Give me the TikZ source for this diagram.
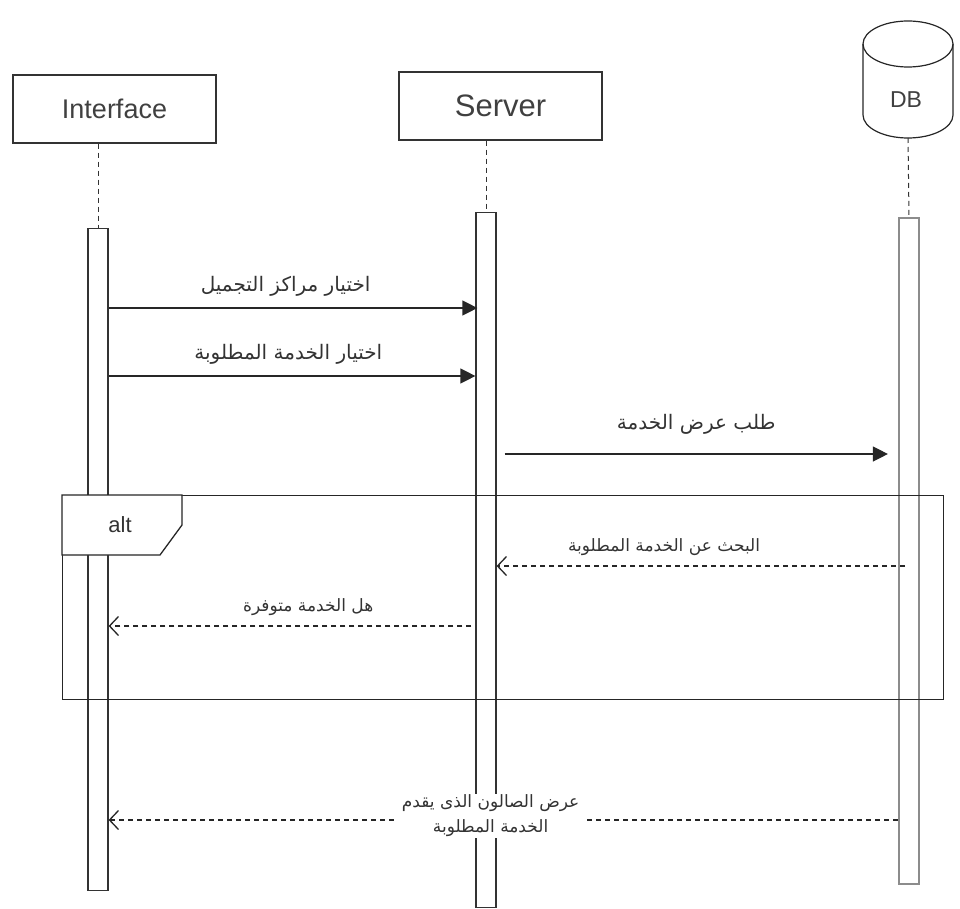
\documentclass[tikz,border=0pt]{standalone}
\usepackage{fontspec}
\setmainfont{Liberation Sans}
\newfontfamily\arabicfont[Script=Arabic]{DejaVu Sans}
\TeXXeTstate=1
\usetikzlibrary{arrows.meta}

% right-to-left label text
\newcommand{\rtl}[1]{{\arabicfont\beginR #1\endR}}

\tikzset{
  head/.style={draw=black!80, line width=1.2pt, minimum width=203pt, minimum height=68pt, text=black!75},
  actbar/.style={draw=black!80, line width=1.2pt, fill=white, minimum width=20pt, anchor=north, inner sep=0pt},
  life/.style={draw=black!80, line width=1pt, dash pattern=on 5pt off 4pt},
  call/.style={draw=black!85, line width=1.3pt, -{Triangle[length=15pt,width=15pt]}},
  reply/.style={draw=black!85, line width=1.1pt, dash pattern=on 5pt off 4pt, -{Straight Barb[length=9pt,width=19pt,line width=1.3pt]}},
  msg/.style={text=black!80, font=\fontsize{20}{22}\selectfont, inner sep=1pt}
}

\begin{document}
\begin{tikzpicture}
  [x=1pt,y=-1pt]
  \useasboundingbox (0,0) rectangle (960,909);

  % lifeline heads
  \node[head, font=\fontsize{27}{30}\selectfont] (iface) at (114.5,109) {Interface};
  \node[head, font=\fontsize{31}{34}\selectfont] (server) at (500.5,106) {Server};
  \draw[draw=black!85, line width=1.2pt] (863,44) -- (863,115) arc[start angle=180, end angle=0, x radius=45, y radius=23]
    -- (953,44) arc[start angle=0, end angle=-180, x radius=45, y radius=23] -- cycle;
  \draw[draw=black!85, line width=1.2pt] (863,44) arc[start angle=180, end angle=0, x radius=45, y radius=23];
  \node[text=black!75, font=\fontsize{23}{26}\selectfont] (db) at (906,100) {DB};
  \coordinate (dbbot) at (908,138);

  % activation bars
  \node[actbar, minimum height=662pt] (ibar) at (98,228) {};
  \node[actbar, minimum height=695pt] (sbar) at (486,212) {};
  \node[actbar, draw=black!45, line width=2.2pt, minimum width=20pt, minimum height=666pt] (dbar) at (909,217) {};

  \draw[life] (ibar.north |- iface.south) -- (ibar.north);
  \draw[life] (sbar.north |- server.south) -- (sbar.north);
  \draw[life] (dbbot) -- (dbar.north);

  % alt fragment
  \node[draw=black!85, line width=1.3pt, minimum width=881pt, minimum height=204pt, anchor=north west, inner sep=0pt] (altbox) at (62,495) {};
  \draw[draw=black!85, line width=1.3pt, fill=white] (altbox.north west) -- ++(120,0) -- ++(0,30) -- ++(-22,30) -- ++(-98,0) -- cycle;
  \node[text=black!80, font=\fontsize{22}{24}\selectfont] (alt) at (120,525) {alt};

  % message rows
  \coordinate (m1) at (0,308);
  \coordinate (m2) at (0,376);
  \coordinate (m3) at (0,454);
  \coordinate (m4) at (0,566);
  \coordinate (m5) at (0,626);
  \coordinate (m6) at (0,820);

  \draw[call] (ibar.east |- m1) -- ([xshift=2pt]sbar.west |- m1)
    node[msg, pos=0.48, yshift=22pt] {\rtl{اختيار مراكز التجميل}};
  \draw[call] (ibar.east |- m2) -- (sbar.west |- m2)
    node[msg, pos=0.49, yshift=22pt] {\rtl{اختيار الخدمة المطلوبة}};
  \draw[call] ([xshift=8pt]sbar.east |- m3) -- ([xshift=-10pt]dbar.west |- m3)
    node[msg, pos=0.5, yshift=30pt] {\rtl{طلب عرض الخدمة}};
  \draw[reply] ([xshift=-4pt]dbar.center |- m4) -- (sbar.east |- m4)
    node[msg, font=\fontsize{17}{19}\selectfont, pos=0.59, yshift=19pt] {\rtl{البحث عن الخدمة المطلوبة}};
  \draw[reply] ([xshift=-4pt]sbar.west |- m5) -- (ibar.east |- m5)
    node[msg, font=\fontsize{17}{19}\selectfont, pos=0.45, yshift=19pt] {\rtl{هل الخدمة متوفرة}};
  \draw[reply] (dbar.west |- m6) -- (ibar.east |- m6)
    node[msg, font=\fontsize{17}{25}\selectfont, pos=0.516, yshift=4pt, fill=white, inner xsep=8pt, align=center] {\rtl{عرض الصالون الذى يقدم}\\\rtl{الخدمة المطلوبة}};
\end{tikzpicture}
\end{document}
